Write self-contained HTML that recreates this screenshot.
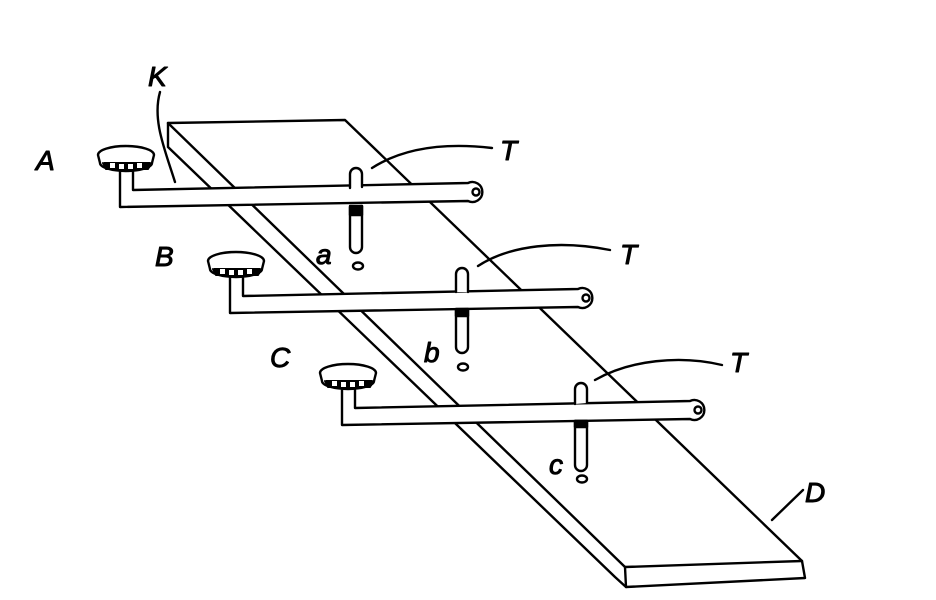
<!DOCTYPE html>
<html><head><meta charset="utf-8"><style>html,body{margin:0;padding:0;background:#fff}svg{display:block}</style></head>
<body>
<svg width="936" height="600" viewBox="0 0 936 600" xmlns="http://www.w3.org/2000/svg" font-family="Liberation Sans, sans-serif" font-style="italic" font-size="28" fill="none" stroke="#000" stroke-width="2.4" stroke-linejoin="round" stroke-linecap="round">
<!-- board -->
<polyline points="168,147 168,123 345,120 802,561 805,578 626,587 615,577 168,147"/>
<line x1="168" y1="123" x2="625" y2="567"/>
<line x1="625" y1="567" x2="802" y2="561"/>
<line x1="625" y1="567" x2="626" y2="587"/>

<!-- rod A -->
<g id="rod">
<path d="M133,190 L468,183 A10,10 0 1 1 468,201 L120,207 L120,172 L133,172 Z" fill="#fff" stroke="none"/>
<path d="M133,172 L133,190 L468,183 A10,10 0 1 1 468,201 L120,207 L120,172"/>
<circle cx="476" cy="192" r="3.5"/>
<path d="M98,155 A28,9 0 0 1 154,155 L152,163 A26,8 0 0 1 100,163 Z" fill="#fff"/>
<path d="M103,163 L106,169 L148,169 L151,163" stroke-width="2"/>
<path d="M104,162 h46 v6 h-46 z" fill="#000" stroke="none"/>
<path d="M110,163 h5 v5 h-5z M119,164 h5 v5 h-5z M128,164 h5 v5 h-5z M137,163 h5 v5 h-5z" fill="#fff" stroke="none"/>
</g>
<use href="#rod" transform="translate(110,106)"/>
<use href="#rod" transform="translate(222,218)"/>

<!-- pins -->
<g fill="#fff">
<path d="M350,188 V174 A6,6 0 0 1 362,174 V187"/>
<path d="M350,207 V247 A6,6 0 0 0 362,247 V206 Z"/>
<rect x="350" y="206" width="12" height="9" fill="#000"/>
<ellipse cx="358" cy="266" rx="5" ry="3.5"/>
<path d="M456,292 V274 A6,6 0 0 1 468,274 V292"/>
<path d="M456,310 V347 A6,6 0 0 0 468,347 V310 Z"/>
<rect x="456" y="309" width="12" height="7" fill="#000"/>
<ellipse cx="463" cy="367" rx="5" ry="3.5"/>
<path d="M575,404 V389 A6,6 0 0 1 587,389 V403"/>
<path d="M575,421 V465 A6,6 0 0 0 587,465 V421 Z"/>
<rect x="575" y="421" width="12" height="6" fill="#000"/>
<ellipse cx="582" cy="479" rx="5" ry="3.5"/>
</g>

<!-- leaders -->
<path d="M160,92 C152,120 165,150 175,182"/>
<path d="M372,168 C400,150 440,142 492,148"/>
<path d="M478,266 C510,245 560,240 610,250"/>
<path d="M595,380 C630,360 680,355 722,365"/>
<path d="M772,520 L803,490"/>

<g fill="#000" stroke="#000" stroke-width="1">
<text x="36" y="170">A</text>
<text x="148" y="86">K</text>
<text x="155" y="266">B</text>
<text x="270" y="367">C</text>
<text x="500" y="160">T</text>
<text x="620" y="264">T</text>
<text x="730" y="372">T</text>
<text x="316" y="264">a</text>
<text x="424" y="362">b</text>
<text x="549" y="474">c</text>
<text x="805" y="502">D</text>
</g>
</svg>
</body></html>
